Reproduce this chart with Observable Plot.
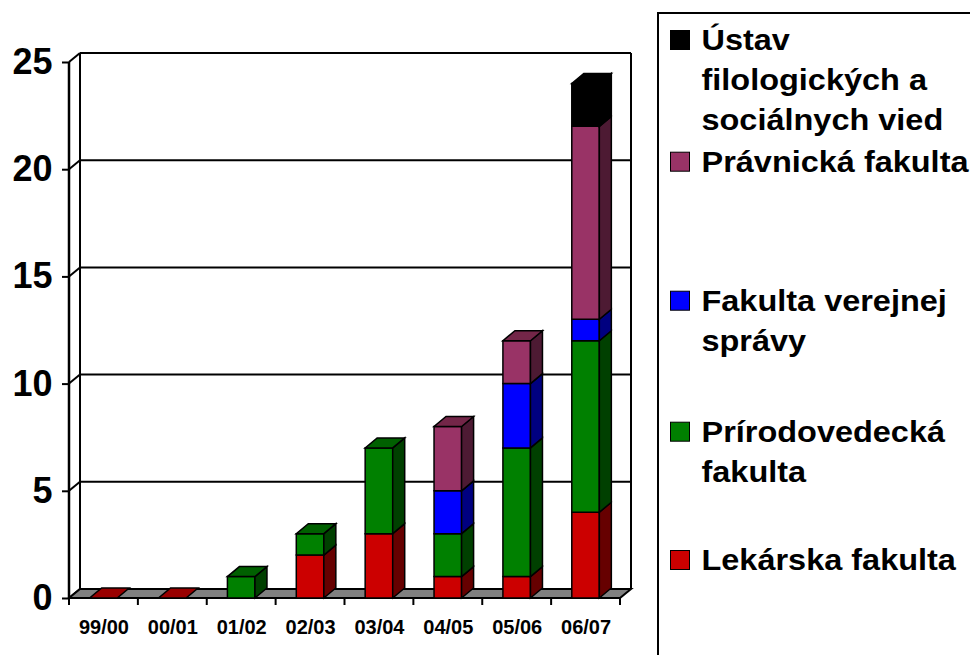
<!DOCTYPE html>
<html><head><meta charset="utf-8">
<script src="https://cdn.jsdelivr.net/npm/d3@7"></script>
<script src="https://cdn.jsdelivr.net/npm/@observablehq/plot@0.6"></script>
<style>
html,body{margin:0;padding:0;background:#fff;overflow:hidden}
#wrap{position:relative;width:970px;height:655px;font-family:"Liberation Sans",Arial,sans-serif}
#chart{position:absolute;left:0;top:0}
#legend{position:absolute;left:650px;top:0}
</style></head><body>
<div id="wrap"><div id="chart"></div><svg id="legend" width="320" height="655"></svg></div>
<script>
// ---- data ----
const categories = ["99/00","00/01","01/02","02/03","03/04","04/05","05/06","06/07"];
const lekarska       = [0,0,0,2,3,1,1,4];
const prirodovedecka = [0,0,1,1,4,2,6,8];
const verejnejSpravy = [0,0,0,0,0,2,3,1];
const pravnicka      = [0,0,0,0,0,3,2,9];
const ustav          = [0,0,0,0,0,0,0,2];
const seriesNames = ["Lekárska fakulta","Prírodovedecká fakulta","Fakulta verejnej správy","Právnická fakulta","Ústav filologických a sociálnych vied"];
const legendLines = [["Lekárska fakulta"],["Prírodovedecká","fakulta"],["Fakulta verejnej","správy"],["Právnická fakulta"],["Ústav","filologických a","sociálnych vied"]];
const yTicks = [0,5,10,15,20,25];

// ---- styles ----
const FRONT = ["#CC0000","#008000","#0000FF","#993366","#000000"];
const SIDE  = ["#660000","#004000","#000080","#4D1A33","#000000"];
const TOP   = ["#990000","#006000","#0000C0","#732648","#000000"];

const seriesValues = [lekarska, prirodovedecka, verejnejSpravy, pravnicka, ustav];
const stacks = categories.map((c, i) => {
  let acc = 0; const segs = [];
  seriesValues.forEach((arr, s) => { const v = arr[i]; if (v > 0) { segs.push({s, y1: acc, y2: acc + v}); acc += v; } });
  return {c, segs, total: acc};
});

function scene(index, scales, values, dims) {
  const x = scales.x, y = scales.y;
  const bw = x.bandwidth();
  const xl = x(categories[0]), xr = x(categories[categories.length - 1]) + bw;
  const y0 = y(0), yT = y(d3.max(yTicks));
  const WX = 11, WY = -9, BX = 12, BY = -10;
  const g = d3.create("svg:g").attr("stroke", "#000").attr("fill", "none").attr("stroke-linejoin", "miter");
  const poly = (pts, fill, sw = 1.5) => g.append("polygon").attr("points", pts.map(p => p.join(",")).join(" ")).attr("fill", fill).attr("stroke-width", sw);
  const line = (x1, y1, x2, y2, sw = 2) => g.append("line").attr("x1", x1).attr("y1", y1).attr("x2", x2).attr("y2", y2).attr("stroke-width", sw);
  // back wall gridlines and borders
  for (const v of yTicks) if (v > 0) line(xl + WX, y(v) + WY, xr + WX, y(v) + WY, 2);
  line(xl + WX, yT + WY, xl + WX, y0 + WY, 2);
  line(xr + WX, yT + WY, xr + WX, y0 + WY, 2);
  // left wall front edge & connectors
  line(xl, yT, xl, y0, 2.5);
  for (const v of yTicks) line(xl, y(v), xl + WX, y(v) + WY, 2);
  // floor
  poly([[xl, y0], [xr, y0], [xr + WX, y0 + WY], [xl + WX, y0 + WY]], "#808080", 2);
  // x ticks at band edges
  for (let i = 0; i <= categories.length; i++) {
    const xx = i < categories.length ? x(categories[i]) : xr;
    line(xx, y0, xx, y0 + 7, 2);
  }
  // bars
  const w = bw * 0.4;
  for (const st of stacks) {
    const cx = x(st.c) + bw / 2, a = cx - w / 2, b = cx + w / 2;
    for (const sg of st.segs) {
      const t = y(sg.y2), bo = y(sg.y1);
      poly([[a, bo], [b, bo], [b, t], [a, t]], FRONT[sg.s]);
      poly([[b, bo], [b + BX, bo + BY], [b + BX, t + BY], [b, t]], SIDE[sg.s]);
    }
    const topS = st.segs.length ? st.segs[st.segs.length - 1].s : 0;
    const t = y(st.total);
    poly([[a, t], [b, t], [b + BX, t + BY], [a + BX, t + BY]], TOP[topS]);
  }
  return g.node();
}

const chart = Plot.plot({
  width: 650, height: 655,
  marginLeft: 69, marginRight: 30, marginTop: 62, marginBottom: 57,
  style: {fontFamily: '"Liberation Sans", Arial, sans-serif', background: "transparent", overflow: "visible", color: "#000"},
  x: {type: "band", domain: categories, padding: 0, round: false, label: null},
  y: {domain: [0, 25], label: null},
  marks: [
    scene,
    Plot.axisY({ticks: yTicks, tickSize: 7, tickPadding: 10, fontSize: 36, fontWeight: "bold", strokeWidth: 2, label: null}),
    Plot.axisX({tickSize: 0, tickPadding: 21, fontSize: 20, fontWeight: "bold", label: null})
  ]
});
document.getElementById("chart").appendChild(chart);

// ---- legend (top entry = last series) ----
const lg = d3.select("#legend");
lg.append("rect").attr("x", 8).attr("y", 13).attr("width", 400).attr("height", 700)
  .attr("fill", "#fff").attr("stroke", "#000").attr("stroke-width", 2);
const baselines = [570, 441.7, 310.7, 171.7, 50];
seriesNames.forEach((name, s) => {
  const yb = baselines[s];
  lg.append("rect").attr("x", 20.5).attr("y", yb - 19.5).attr("width", 19).attr("height", 19)
    .attr("fill", FRONT[s]).attr("stroke", "#000").attr("stroke-width", 1);
  legendLines[s].forEach((ln, k) => {
    lg.append("text").attr("transform", `translate(51.5,${yb + k * 40}) scale(1.12,1)`)
      .attr("font-family", '"Liberation Sans", Arial, sans-serif').attr("font-weight", "bold")
      .attr("font-size", 29).attr("fill", "#000").text(ln);
  });
});
</script></body></html>
